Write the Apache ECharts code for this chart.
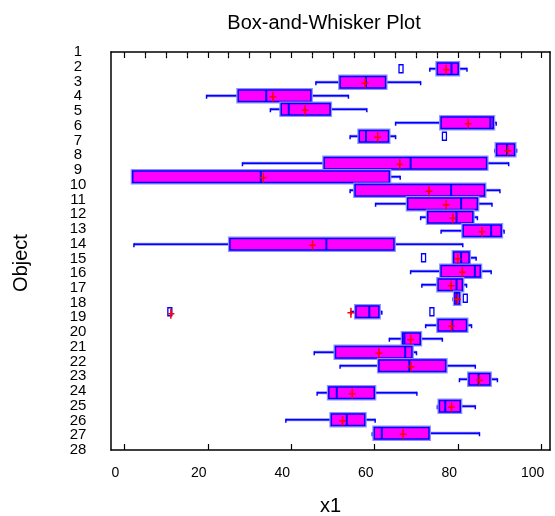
<!DOCTYPE html>
<html>
<head>
<meta charset="utf-8">
<title>Box-and-Whisker Plot</title>
<script src="https://cdn.jsdelivr.net/npm/echarts@6/dist/echarts.min.js"></script>
<style>
  html, body { margin: 0; padding: 0; background: #ffffff; }
  #chart { width: 555px; height: 516px; }
</style>
</head>
<body>
<div id="chart"></div>
<script>
// Object numbers (one box per object)
const objects = [1, 2, 3, 4, 5, 6, 7, 8, 9, 10, 11, 12, 13, 14, 15, 16, 17, 18, 19, 20, 21, 22, 23, 24, 25, 26, 27, 28];

// Five-number summaries of x1 for each object
const whiskerLow  = [73.2, 45.9, 19.7, 35.0, 65.0, 54.1, 88.8, 28.3,  2.0, 54.1, 60.2, 71.0, 75.9,  2.3, 78.9, 68.6, 71.3, 78.8, 54.3, 72.2, 63.5, 45.5, 51.7, 80.3, 46.2, 75.0, 38.7, 59.4];
const quartile1   = [75.0, 51.7, 27.3, 37.6, 75.9, 56.3, 89.2, 47.9,  2.0, 55.3, 67.9, 72.7, 81.2, 25.3, 78.9, 75.9, 75.2, 79.2, 55.5, 75.2, 66.7, 50.6, 61.0, 82.6, 49.0, 75.5, 49.6, 59.9];
const medians     = [78.4, 57.9, 34.0, 39.4, 87.7, 57.9, 91.7, 68.6, 32.7, 78.3, 80.7, 79.6, 87.9, 48.4, 80.7, 84.0, 79.6, 79.7, 58.7, 78.6, 67.1, 67.3, 68.3, 84.9, 50.9, 76.9, 53.3, 61.7];
const quartile3   = [80.0, 62.6, 44.7, 49.3, 88.4, 63.3, 93.5, 86.8, 63.5, 86.3, 84.6, 83.5, 90.3, 64.6, 82.6, 85.3, 81.0, 80.3, 61.0, 82.0, 70.9, 68.9, 77.0, 87.6, 59.9, 80.5, 57.6, 73.0];
const whiskerHigh = [82.1, 71.0, 53.7, 58.1, 89.1, 65.0, 94.0, 92.1, 66.1, 90.0, 88.1, 84.6, 91.0, 81.1, 84.3, 87.9, 82.0, 80.3, 61.7, 83.2, 76.2, 70.0, 84.1, 89.4, 70.1, 84.1, 60.1, 85.1];
const means       = [77.1, 57.7, 35.6, 43.3, 82.4, 60.7, 91.9, 66.0, 33.3, 73.0, 77.1, 78.7, 85.7, 45.1, 79.9, 81.0, 78.3, 79.8, 54.3, 78.4, 68.6, 61.0, 68.7, 85.1, 54.6, 78.4, 52.3, 66.8];

// Outside points: [object, x1]
const outsidePoints = [[1, 66.3], [6, 76.7], [15, 71.7], [18, 81.7], [19, 73.7]];
// Far outside points: [object, x1]
const farOutsidePoints = [[19, 10.9]];

// Axis tick values and labels
const xMajorTicks = [0, 20, 40, 60, 80, 100];
const xMinorTicks = [5, 10, 15, 25, 30, 35, 45, 50, 55, 65, 70, 75, 85, 90, 95];
const yLabels = ['1', '2', '3', '4', '5', '6', '7', '8', '9', '10', '11', '12', '13', '14',
                 '15', '16', '17', '18', '19', '20', '21', '22', '23', '24', '25', '26', '27', '28'];

const FONT = '"Liberation Sans", Arial, Helvetica, sans-serif';
const BLUE = '#0000ff';
const HALO = '#8f8fff';
const FILL = '#ff00ff';
const RED = '#ff0000';
const BOX_HEIGHT = 0.85;   // in object units

const X_MIN = -3.2, X_MAX = 102;

const boxData = objects.map((o, i) => [o, whiskerLow[i], quartile1[i], medians[i], quartile3[i], whiskerHigh[i]]);
const meanData = objects.map((o, i) => [o, means[i]]);
const outsideData = outsidePoints.map(p => [p[0], p[1], 0]).concat(farOutsidePoints.map(p => [p[0], p[1], 1]));

function renderBox(params, api) {
  const obj = api.value(0);
  const lo = api.coord([api.value(1), obj]);
  const b1 = api.coord([api.value(2), obj]);
  const md = api.coord([api.value(3), obj]);
  const b3 = api.coord([api.value(4), obj]);
  const hi = api.coord([api.value(5), obj]);
  const h = api.size([0, BOX_HEIGHT])[1];
  const cy = lo[1];
  const wStyle = { stroke: BLUE, lineWidth: 1.5 };
  const haloStyle = { stroke: HALO, lineWidth: 3 };
  const children = [];
  // whiskers with a faint halo
  [[lo[0], b1[0]], [b3[0], hi[0]]].forEach(([a, b]) => {
    if (b - a > 0.5) {
      children.push({ type: 'line', shape: { x1: a, y1: cy, x2: b, y2: cy }, style: haloStyle });
      children.push({ type: 'line', shape: { x1: a, y1: cy, x2: b, y2: cy }, style: wStyle });
    }
  });
  // end caps
  [lo[0], hi[0]].forEach(x => {
    children.push({ type: 'line', shape: { x1: x, y1: cy - 1, x2: x, y2: cy + 3 }, style: wStyle });
  });
  // box
  children.push({
    type: 'rect',
    shape: { x: b1[0] - 1, y: cy - h / 2 - 1, width: b3[0] - b1[0] + 2, height: h + 2 },
    style: { fill: null, stroke: HALO, lineWidth: 2 }
  });
  children.push({
    type: 'rect',
    shape: { x: b1[0], y: cy - h / 2, width: b3[0] - b1[0], height: h },
    style: { fill: FILL, stroke: BLUE, lineWidth: 1.5 }
  });
  // median
  children.push({
    type: 'line',
    shape: { x1: md[0], y1: cy - h / 2, x2: md[0], y2: cy + h / 2 },
    style: { stroke: BLUE, lineWidth: 2 }
  });
  return { type: 'group', children };
}

function plusShape(x, y) {
  return [
    { type: 'line', shape: { x1: x - 3.5, y1: y + 1, x2: x + 3.5, y2: y + 1 }, style: { stroke: RED, lineWidth: 1.5 } },
    { type: 'line', shape: { x1: x, y1: y - 4, x2: x, y2: y + 6 }, style: { stroke: RED, lineWidth: 1.5 } }
  ];
}

function renderMean(params, api) {
  const p = api.coord([api.value(1), api.value(0)]);
  return { type: 'group', children: plusShape(p[0], p[1]) };
}

function renderOutside(params, api) {
  const p = api.coord([api.value(1), api.value(0)]);
  const children = [{
    type: 'rect',
    shape: { x: p[0] - 2, y: p[1] - 4, width: 4, height: 8 },
    style: { fill: '#ffffff', stroke: BLUE, lineWidth: 1.3 }
  }];
  if (api.value(2) === 1) {
    plusShape(p[0] + 1, p[1] + 1).forEach(c => children.push(c));
  }
  return { type: 'group', children };
}

const axisLineStyle = { color: '#000000', width: 1.5 };

const option = {
  animation: false,
  backgroundColor: '#ffffff',
  textStyle: { fontFamily: FONT },
  graphic: [{
    type: 'text',
    x: 324, y: 23,
    style: { text: 'Box-and-Whisker Plot', font: '20px ' + FONT, fill: '#000', align: 'center', verticalAlign: 'middle' }
  }],
  grid: { left: 111, right: 5, top: 52, bottom: 66, containLabel: false, outerBoundsMode: 'none' },
  xAxis: [
    {
      type: 'value', position: 'bottom', min: X_MIN, max: X_MAX,
      name: 'x1', nameLocation: 'middle', nameGap: 46,
      nameTextStyle: { fontSize: 20, color: '#000', fontFamily: FONT },
      axisLine: { show: true, onZero: false, lineStyle: axisLineStyle },
      axisTick: { show: true, inside: true, length: 6, customValues: xMajorTicks, lineStyle: { color: '#000', width: 1.2 } },
      axisLabel: { show: true, customValues: xMajorTicks, fontSize: 14, color: '#000', margin: 16, padding: [0, 18, 0, 0], fontFamily: FONT },
      splitLine: { show: false }
    },
    {
      type: 'value', position: 'bottom', min: X_MIN, max: X_MAX,
      axisLine: { show: false },
      axisTick: { show: true, inside: true, length: 3, customValues: xMinorTicks, lineStyle: { color: '#000', width: 1.2 } },
      axisLabel: { show: false },
      splitLine: { show: false }
    },
    {
      type: 'value', position: 'top', min: X_MIN, max: X_MAX,
      axisLine: { show: true, onZero: false, lineStyle: axisLineStyle },
      axisTick: { show: true, inside: true, length: 6, customValues: xMajorTicks, lineStyle: { color: '#000', width: 1.2 } },
      axisLabel: { show: false },
      splitLine: { show: false }
    },
    {
      type: 'value', position: 'top', min: X_MIN, max: X_MAX,
      axisLine: { show: false },
      axisTick: { show: true, inside: true, length: 3, customValues: xMinorTicks, lineStyle: { color: '#000', width: 1.2 } },
      axisLabel: { show: false },
      splitLine: { show: false }
    }
  ],
  yAxis: [
    {
      type: 'value', position: 'left', min: -0.24, max: 29.24, inverse: true,
      axisLine: { show: true, onZero: false, lineStyle: axisLineStyle },
      axisTick: { show: false }, axisLabel: { show: false }, splitLine: { show: false }
    },
    {
      type: 'category', position: 'left', data: yLabels, boundaryGap: false, inverse: true,
      name: 'Object', nameLocation: 'middle', nameGap: 80, nameRotate: 90,
      nameTextStyle: { fontSize: 20, color: '#000', fontFamily: FONT, padding: [0, 24, 0, 0] },
      axisLine: { show: false }, axisTick: { show: false },
      axisLabel: { show: true, interval: 0, align: 'center', margin: 33, fontSize: 15, color: '#000', fontFamily: FONT },
      splitLine: { show: false }
    },
    {
      type: 'value', position: 'right', min: -0.24, max: 29.24, inverse: true,
      axisLine: { show: true, onZero: false, lineStyle: axisLineStyle },
      axisTick: { show: false }, axisLabel: { show: false }, splitLine: { show: false }
    }
  ],
  series: [
    {
      type: 'custom', name: 'boxes', xAxisIndex: 0, yAxisIndex: 0, z: 2,
      renderItem: renderBox, data: boxData,
      encode: { x: [1, 2, 3, 4, 5], y: 0 }
    },
    {
      type: 'custom', name: 'means', xAxisIndex: 0, yAxisIndex: 0, z: 4,
      renderItem: renderMean, data: meanData,
      encode: { x: 1, y: 0 }
    },
    {
      type: 'custom', name: 'outside', xAxisIndex: 0, yAxisIndex: 0, z: 3,
      renderItem: renderOutside, data: outsideData,
      encode: { x: 1, y: 0 }
    }
  ]
};

const chart = echarts.init(document.getElementById('chart'), null, { renderer: 'canvas' });
chart.setOption(option);
</script>
</body>
</html>
